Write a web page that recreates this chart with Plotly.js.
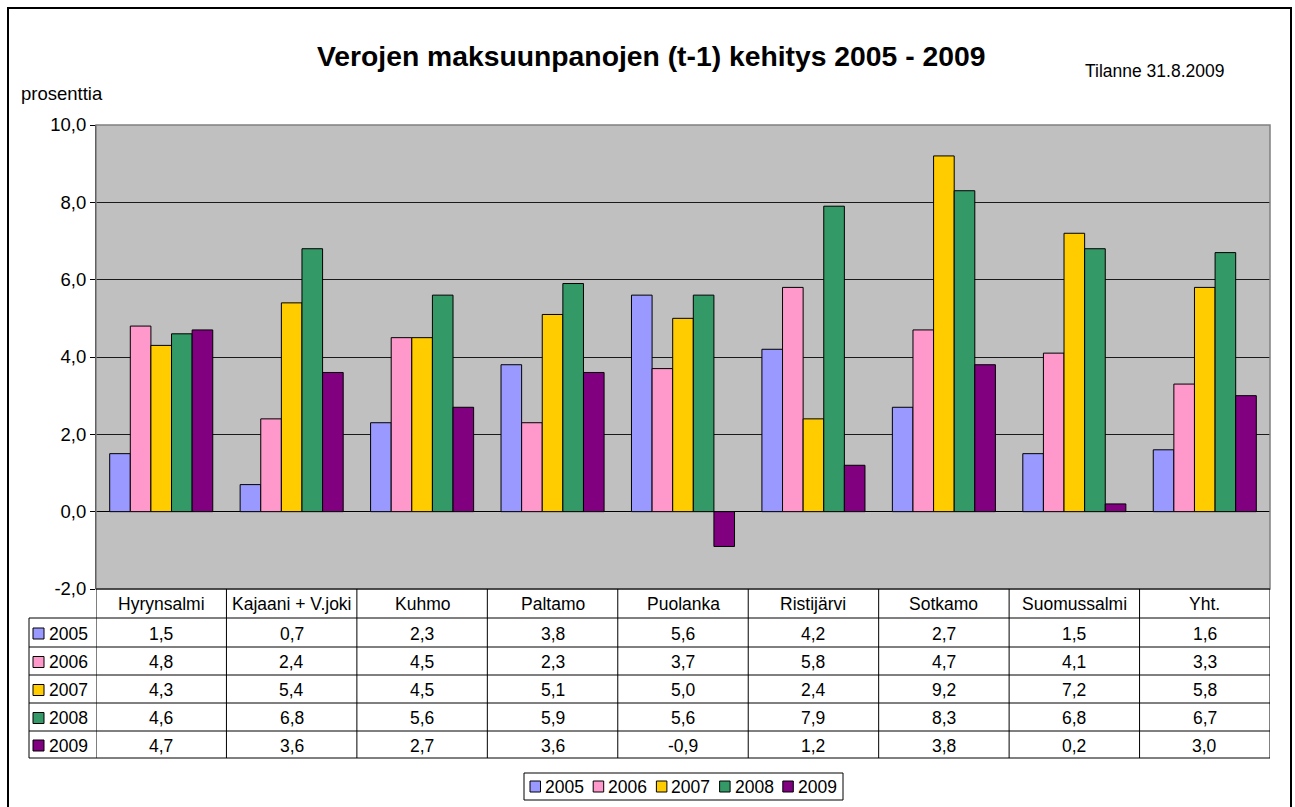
<!DOCTYPE html>
<html>
<head>
<meta charset="utf-8">
<script src="https://cdn.plot.ly/plotly-3.0.1.min.js"></script>
<style>html,body{margin:0;padding:0;background:#fff}#chart{width:1295px;height:807px}</style>
</head>
<body>
<div id="chart"></div>
<script>
const categories = ['Hyrynsalmi','Kajaani + V.joki','Kuhmo','Paltamo','Puolanka','Ristijärvi','Sotkamo','Suomussalmi','Yht.'];
const years = ['2005','2006','2007','2008','2009'];
const v2005 = [1.5, 0.7, 2.3, 3.8, 5.6, 4.2, 2.7, 1.5, 1.6];
const v2006 = [4.8, 2.4, 4.5, 2.3, 3.7, 5.8, 4.7, 4.1, 3.3];
const v2007 = [4.3, 5.4, 4.5, 5.1, 5.0, 2.4, 9.2, 7.2, 5.8];
const v2008 = [4.6, 6.8, 5.6, 5.9, 5.6, 7.9, 8.3, 6.8, 6.7];
const v2009 = [4.7, 3.6, 2.7, 3.6, -0.9, 1.2, 3.8, 0.2, 3.0];
const series = [v2005, v2006, v2007, v2008, v2009];
const colors = ['#9999FF','#FF99CC','#FFCC00','#339966','#800080'];
const yTickVals = [-2, 0, 2, 4, 6, 8, 10];
const yTickLabels = ['-2,0','0,0','2,0','4,0','6,0','8,0','10,0'];
const titleText = 'Verojen maksuunpanojen (t-1) kehitys 2005 - 2009';
const dateText = 'Tilanne 31.8.2009';
const yLabel = 'prosenttia';

const W = 1295, H = 807;
const X = px => px / W;
const Y = py => 1 - py / H;
const FONT = 'Liberation Sans, Arial, sans-serif';
const TXT = 17.5;

const xIdx = categories.map((c, i) => i);

const traces = series.map((vals, s) => ({
  type: 'bar',
  name: years[s],
  x: xIdx,
  y: vals,
  marker: {color: colors[s], line: {color: '#000', width: 1}},
  hoverinfo: 'skip',
  showlegend: false
}));

const shapes = [];
const annotations = [];

// outer border
shapes.push({type:'rect', xref:'paper', yref:'paper', x0:X(8), x1:X(1291), y0:Y(815), y1:Y(8), line:{color:'#000', width:2}, fillcolor:'rgba(0,0,0,0)', layer:'above'});
// plot area border
shapes.push({type:'rect', xref:'paper', yref:'paper', x0:X(96), x1:X(1270), y0:Y(589), y1:Y(125), line:{color:'#808080', width:1.5}, fillcolor:'rgba(0,0,0,0)', layer:'above'});

// table geometry
const rowLines = [618, 647, 675, 703, 731, 758];
const headerMid = 603.5;
shapes.push({type:'line', xref:'paper', yref:'paper', x0:X(96), x1:X(1270), y0:Y(589), y1:Y(589), line:{color:'#000', width:1}});
rowLines.forEach(py => {
  shapes.push({type:'line', xref:'paper', yref:'paper', x0:X(29), x1:X(1270), y0:Y(py), y1:Y(py), line:{color:'#000', width:1}});
});
for (let k = 0; k <= categories.length; k++) {
  shapes.push({type:'line', xref:'x', yref:'paper', x0:k-0.5, x1:k-0.5, y0:Y(758), y1:Y(589), line:{color:'#000', width:1}});
}
shapes.push({type:'line', xref:'paper', yref:'paper', x0:X(29), x1:X(29), y0:Y(758), y1:Y(618), line:{color:'#000', width:1}});

categories.forEach((c, i) => {
  annotations.push({xref:'x', yref:'paper', x:i, y:Y(headerMid), text:c, showarrow:false, xanchor:'center', yanchor:'middle', font:{family:FONT, size:TXT, color:'#000'}});
});
series.forEach((vals, s) => {
  const top = rowLines[s], bot = rowLines[s+1];
  const mid = (top + bot) / 2 + 1;
  shapes.push({type:'rect', xref:'paper', yref:'paper', x0:X(33), x1:X(44), y0:Y(mid+5.5), y1:Y(mid-5.5), fillcolor:colors[s], line:{color:'#000', width:1}});
  annotations.push({xref:'paper', yref:'paper', x:X(47), y:Y(mid), text:years[s], showarrow:false, xanchor:'left', yanchor:'middle', font:{family:FONT, size:TXT, color:'#000'}});
  vals.forEach((v, i) => {
    annotations.push({xref:'x', yref:'paper', x:i, y:Y(mid), text:v.toFixed(1).replace('.', ','), showarrow:false, xanchor:'center', yanchor:'middle', font:{family:FONT, size:TXT, color:'#000'}});
  });
});

// custom legend box
const legL = 524, legR = 843, legT = 773, legB = 800, legMid = 786.5;
shapes.push({type:'rect', xref:'paper', yref:'paper', x0:X(legL), x1:X(legR), y0:Y(legB), y1:Y(legT), line:{color:'#000', width:1}, fillcolor:'#fff'});
years.forEach((yr, s) => {
  const sx = 530 + s * 63.2;
  shapes.push({type:'rect', xref:'paper', yref:'paper', x0:X(sx), x1:X(sx+10.5), y0:Y(legMid+5.5), y1:Y(legMid-5.5), fillcolor:colors[s], line:{color:'#000', width:1}});
  annotations.push({xref:'paper', yref:'paper', x:X(sx+13), y:Y(legMid), text:yr, showarrow:false, xanchor:'left', yanchor:'middle', font:{family:FONT, size:TXT, color:'#000'}});
});

// titles
annotations.push({xref:'paper', yref:'paper', x:X(651), y:Y(56), text:'<b>'+titleText+'</b>', showarrow:false, xanchor:'center', yanchor:'middle', font:{family:FONT, size:28.3, color:'#000'}});
annotations.push({xref:'paper', yref:'paper', x:X(1154), y:Y(71), text:dateText, showarrow:false, xanchor:'center', yanchor:'middle', font:{family:FONT, size:TXT, color:'#000'}});
annotations.push({xref:'paper', yref:'paper', x:X(19), y:Y(93), text:yLabel, showarrow:false, xanchor:'left', yanchor:'middle', font:{family:FONT, size:18.5, color:'#000'}});

const layout = {
  width: W, height: H,
  margin: {l:0, r:0, t:0, b:0, pad:0},
  paper_bgcolor: '#fff',
  plot_bgcolor: '#C0C0C0',
  font: {family: FONT, size: 13, color: '#000'},
  barmode: 'group',
  bargap: 0.21,
  bargroupgap: 0,
  showlegend: false,
  xaxis: {
    domain: [X(96), X(1270)],
    range: [-0.5, categories.length - 0.5],
    showticklabels: false, ticks: '', showgrid: false, zeroline: false,
    showline: false, fixedrange: true
  },
  yaxis: {
    domain: [Y(589), Y(125)],
    range: [-2, 10],
    tickmode: 'array', tickvals: yTickVals, ticktext: yTickLabels,
    ticks: 'outside', ticklen: 5, tickcolor: '#000', tickwidth: 1,
    showgrid: true, gridcolor: '#1a1a1a', gridwidth: 1,
    zeroline: true, zerolinecolor: '#000', zerolinewidth: 1,
    showline: true, linecolor: '#000', linewidth: 1,
    tickfont: {family: FONT, size: 18.5, color: '#000'},
    fixedrange: true
  },
  shapes: shapes,
  annotations: annotations
};

Plotly.newPlot('chart', traces, layout, {displayModeBar: false, staticPlot: true});
</script>
</body>
</html>
